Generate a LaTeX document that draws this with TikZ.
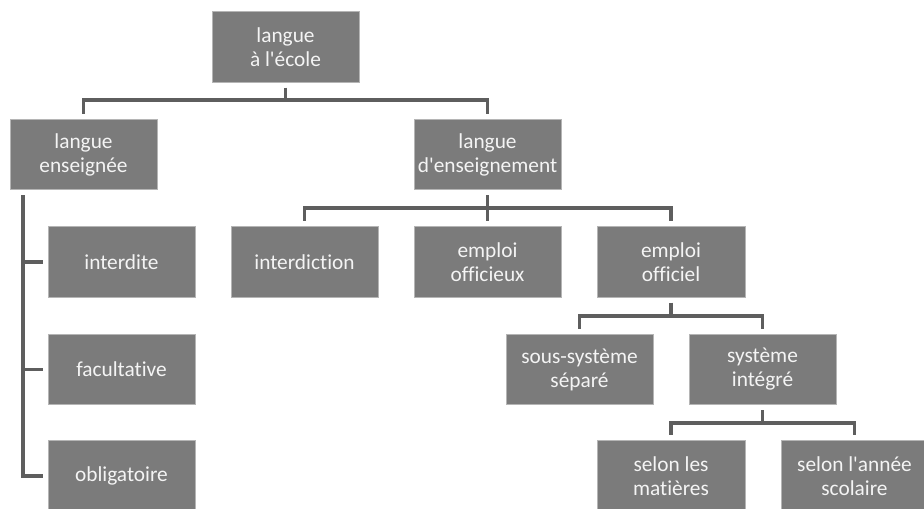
\documentclass[tikz,border=0pt]{standalone}
\usepackage{fontspec}
\setmainfont{Carlito}[Ligatures={TeXOff,NoCommon}]
\usetikzlibrary{calc}
\definecolor{boxfill}{HTML}{7B7B7B}
\definecolor{boxline}{HTML}{B5B5B5}
\definecolor{conncol}{HTML}{5E5E5E}
\definecolor{txt}{HTML}{F4F4F4}
\tikzset{
  box/.style={draw=boxline, line width=0.6pt, fill=boxfill, text=txt, align=center,
    minimum width=110.25pt, minimum height=52.75pt, inner sep=0pt,
    font=\fontsize{16}{18}\selectfont},
  conn/.style={draw=conncol, line width=2.8pt},
  gapa/.style={shorten <=3.75pt},
  gapb/.style={shorten >=3.75pt}
}
\begin{document}
\begin{tikzpicture}[x=0.75pt,y=-0.75pt]
\useasboundingbox (0,0) rectangle (924,508);
\clip (0,0) rectangle (924,508);
\fill[white] (0,0) rectangle (924,508);
\node[box] (top) at (285.5,47) {langue\\à l'école};
\node[box] (le) at (83.5,154.5) {langue\\enseignée};
\node[box] (ld) at (487.5,154.5) {langue\\d'enseignement};
\node[box] (intd) at (121.5,262) {interdite};
\node[box] (fac) at (121.5,369.5) {facultative};
\node[box] (obl) at (121.5,476) {obligatoire};
\node[box] (inter) at (304.5,262) {interdiction};
\node[box] (offx) at (487.5,262) {emploi\\officieux};
\node[box,minimum width=111pt] (offl) at (671,262) {emploi\\officiel};
\node[box] (sep) at (579.5,369.5) {sous-système\\séparé};
\node[box] (integ) at (762.5,369.5) {système\\intégré};
\node[box,minimum width=111pt] (mat) at (671,476) {selon les\\matières};
\node[box] (annee) at (854.5,476) {selon l'année\\scolaire};
% junctions
\coordinate (j1) at (285.5,100);
\coordinate (j2) at (487.5,208);
\coordinate (j3) at (671,316);
\coordinate (j4) at (762.5,423);
\coordinate (lv) at (23,190);
% top
\draw[conn,gapa] (top.south) -- (j1);
\draw[conn,gapb] (j1) -| (le.north);
\draw[conn,gapb] (j1) -| (ld.north);
% langue d'enseignement
\draw[conn,gapa] (ld.south) -- (j2);
\draw[conn,gapb] (j2) -| (inter.north);
\draw[conn,gapb] (j2) -- (offx.north);
\draw[conn,gapb] (j2) -| (offl.north);
% langue enseignee
\draw[conn,gapa,gapb] (lv) |- (intd.west);
\draw[conn,gapa,gapb] (lv) |- (fac.west);
\draw[conn,gapa,gapb] (lv) |- (obl.west);
% emploi officiel
\draw[conn,gapa] (offl.south) -- (j3);
\draw[conn,gapb] (j3) -| (sep.north);
\draw[conn,gapb] (j3) -| (integ.north);
% systeme integre
\draw[conn,gapa] (integ.south) -- (j4);
\draw[conn,gapb] (j4) -| (mat.north);
\draw[conn,gapb] (j4) -| (annee.north);
\end{tikzpicture}
\end{document}
